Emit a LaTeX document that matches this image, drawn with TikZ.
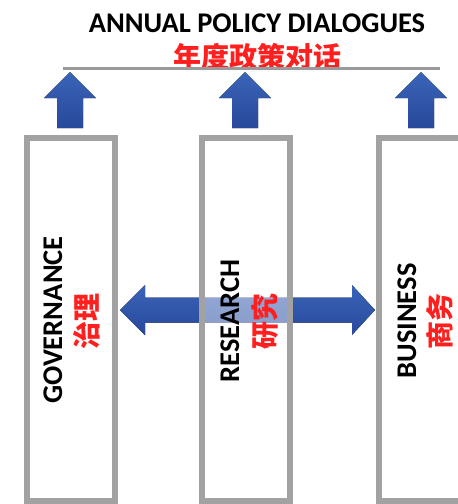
\documentclass[tikz,border=0pt]{standalone}
\usepackage{fontspec}
\setmainfont{Carlito}
\newfontfamily\cjk{Noto Sans CJK SC}
\definecolor{boxgray}{HTML}{A2A2A2}
\definecolor{linegray}{HTML}{9A9A9A}
\definecolor{arrtop}{HTML}{3A64B8}
\definecolor{arrbot}{HTML}{28489C}
\definecolor{cnred}{HTML}{FF1F1F}
\begin{document}
\begin{tikzpicture}[x=1pt,y=-1pt,
  pillar/.style={draw=boxgray, line width=6pt, minimum width=88pt, minimum height=363pt, inner sep=0pt, fill=white},
  enlabel/.style={font=\fontsize{28.5}{30}\selectfont\bfseries, text=black, rotate=90, inner sep=0pt},
  cnlabel/.style={font=\cjk\bfseries\fontsize{28}{30}\selectfont, text=cnred, rotate=90, inner sep=0pt},
  blockarrow/.style={top color=arrtop, bottom color=arrbot, draw=none}]
\useasboundingbox (0,0) rectangle (458,504);
\clip (0,0) rectangle (458,504);
% title
\node[font=\fontsize{28.5}{30}\selectfont\bfseries, inner sep=0pt] (title) at (257,23) {ANNUAL POLICY DIALOGUES};
\node[font=\cjk\bfseries\fontsize{28}{30}\selectfont, text=cnred, inner sep=0pt] (titlecn) at (257,57) {年度政策对话};
\coordinate (lineL) at (63,68.5);
\coordinate (lineR) at (440,68.5);
\draw[linegray, line width=2.5pt] (lineL) -- (lineR);
% up arrows
\foreach \cx in {70,245,421}{
  \fill[blockarrow] (\cx-13,128) -- (\cx-13,98) -- (\cx-26,98) -- (\cx,72) -- (\cx+26,98) -- (\cx+13,98) -- (\cx+13,128) -- cycle;
}
% pillars
\node[pillar] (gov) at (71,319.5) {};
\node[pillar] (bus) at (423,319.5) {};
% double arrow
\fill[top color=arrtop, bottom color=arrbot]
  (120,310) -- (145,285) -- (145,297.5) -- (352,297.5) -- (352,285) -- (375,310)
  -- (352,335) -- (352,322.5) -- (145,322.5) -- (145,335) -- cycle;
\node[pillar, fill opacity=0.45] (res) at (246,319.5) {};
% labels
\node[enlabel] (govt) at (53,320) {GOVERNANCE};
\node[cnlabel] (govc) at (87,321) {治理};
\node[enlabel] (rest) at (230,321) {RESEARCH};
\node[cnlabel] (resc) at (265,321) {研究};
\node[enlabel] (bust) at (407,321) {BUSINESS};
\node[cnlabel] (busc) at (440,321) {商务};
\end{tikzpicture}
\end{document}
